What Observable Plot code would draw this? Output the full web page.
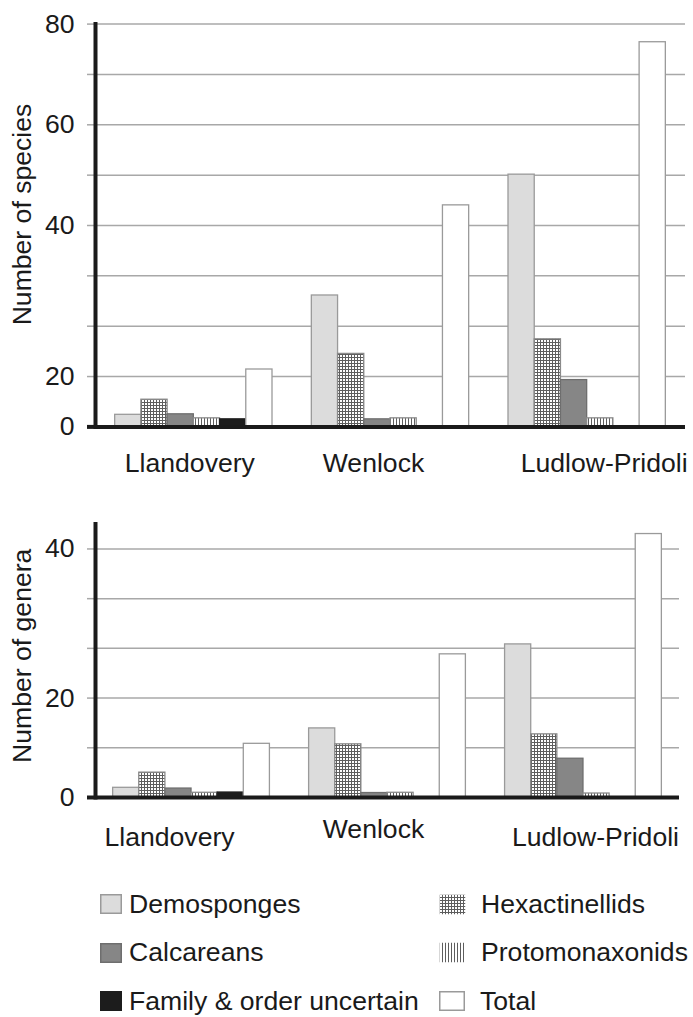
<!DOCTYPE html>
<html>
<head>
<meta charset="utf-8">
<script src="https://cdn.jsdelivr.net/npm/d3@7"></script>
<script src="https://cdn.jsdelivr.net/npm/@observablehq/plot@0.6"></script>
<style>
  html, body { margin: 0; padding: 0; background: #fff; }
  body { font-family: "Liberation Sans", Arial, Helvetica, sans-serif; color: #1a1a1a; width: 693px; }
  #charts svg { display: block; }
  #defs { position: absolute; width: 0; height: 0; }
  .legend { display: grid; grid-template-columns: 339px auto; grid-auto-rows: 48.5px; align-items: center;
            margin-left: 100px; padding-top: 20px; font-size: 26.6px; }
  .legend .item { display: flex; align-items: center; white-space: nowrap; }
  .legend .item:nth-child(odd) svg { margin-right: 7px; }
  .legend .item:nth-child(even) svg { margin-right: 15px; }
</style>
</head>
<body>
<svg id="defs" aria-hidden="true">
  <defs>
    <pattern id="hexPat" width="3" height="3" patternUnits="userSpaceOnUse">
      <rect width="3" height="3" fill="#ffffff"/>
      <path d="M0 0.5H3M0.5 0V3" stroke="#5e5e5e" stroke-width="1"/>
    </pattern>
    <pattern id="protoPat" width="3" height="3" patternUnits="userSpaceOnUse">
      <rect width="3" height="3" fill="#ffffff"/>
      <path d="M0.5 0V3" stroke="#5e5e5e" stroke-width="1"/>
    </pattern>
  </defs>
</svg>
<div id="charts"></div>
<div class="legend" id="legend"></div>
<script>
// ---------- data ----------
const periods = ["Llandovery", "Wenlock", "Ludlow-Pridoli"];
const seriesNames = ["Demosponges", "Hexactinellids", "Calcareans", "Protomonaxonids", "Family & order uncertain", "Total"];

// Number of species (per period, in the order of `periods`)
const speciesDemosponges  = [2.4, 26.1, 50.1];
const speciesHexactinellids = [5.4, 14.5, 17.4];
const speciesCalcareans   = [2.5, 1.5, 9.3];
const speciesProtomonaxonids = [1.7, 1.7, 1.7];
const speciesUncertain    = [1.5, 0, 0];
const speciesTotal        = [11.4, 44, 76.4];

// Number of genera
const generaDemosponges   = [1.95, 13.9, 30.8];
const generaHexactinellids = [5.0, 10.7, 12.7];
const generaCalcareans    = [1.8, 0.9, 7.8];
const generaProtomonaxonids = [0.95, 0.95, 0.8];
const generaUncertain     = [1.0, 0, 0];
const generaTotal         = [10.8, 28.8, 53];

// axis ticks as printed on the original
const speciesGrid = [10, 20, 30, 40, 50, 60, 70, 80];
const speciesTickValues = [0, 10, 40, 60, 80];
const speciesTickLabels = ["0", "20", "40", "60", "80"];
const generaGrid = [10, 20, 30, 40, 50];
const generaTickValues = [0, 20, 50];
const generaTickLabels = ["0", "20", "40"];

// ---------- styles ----------
const fills   = ["#dcdcdc", "url(#hexPat)", "#868686", "url(#protoPat)", "#1c1c1c", "#ffffff"];
const strokes = ["#9a9a9a", "#8a8a8a", "#6e6e6e", "#8a8a8a", "#1c1c1c", "#9a9a9a"];
const ink = "#1a1a1a";
const gridColor = "#a8a8a8";
const W = 693, ML = 95, FS = 26.6;

function chart(cfg) {
  const valuesBySeries = cfg.values;
  const rows = [];
  periods.forEach((p, i) => seriesNames.forEach((s, j) => rows.push({period: p, series: s, value: valuesBySeries[j][i]})));
  const n = seriesNames.length;
  const innerW = W - ML - cfg.marginRight;
  const step = innerW / (periods.length - 0.2 + 2 * cfg.paddingOuter);
  const w = step * 0.8 / n;
  const tickMap = new Map(cfg.tickValues.map((v, i) => [v, cfg.tickLabels[i]]));

  const bars = seriesNames.map((s, j) => Plot.barY(rows.filter(r => r.series === s && r.value > 0), {
    x: "period", y: "value", fill: fills[j], stroke: strokes[j], strokeWidth: 1.3,
    insetLeft: j * w, insetRight: (n - 1 - j) * w
  }));

  const labels = periods.map((p, i) => Plot.text([p], {
    x: d => d, text: d => d, frameAnchor: "bottom", dx: cfg.labelDx[i], dy: cfg.labelDy[i],
    lineAnchor: "middle", fontSize: FS, fill: ink
  }));

  return Plot.plot({
    width: W, height: cfg.height,
    marginLeft: ML, marginRight: cfg.marginRight, marginTop: cfg.marginTop, marginBottom: cfg.marginBottom,
    style: {fontFamily: "'Liberation Sans', Arial, sans-serif", fontSize: FS + "px", color: ink, background: "#fff"},
    x: {domain: periods, paddingInner: 0.2, paddingOuter: cfg.paddingOuter, round: false, axis: null},
    y: {domain: [0, cfg.yMax], axis: null, label: null},
    marks: [
      Plot.ruleY(cfg.grid, {stroke: gridColor, strokeWidth: 1.5}),
      Plot.axisY(cfg.grid, {tickSize: 8, tickFormat: () => "", stroke: gridColor, strokeWidth: 1.5, label: null}),
      ...bars,
      Plot.ruleY([0], {stroke: ink, strokeWidth: 4}),
      Plot.axisY([0], {tickSize: 8, tickFormat: () => "", stroke: ink, strokeWidth: 4, label: null}),
      Plot.frame({anchor: "left", stroke: ink, strokeWidth: 4}),
      Plot.axisY(cfg.tickValues, {tickSize: 0, tickPadding: 21, tickFormat: d => tickMap.get(d), fontSize: FS, fill: ink, label: null}),
      Plot.text([cfg.yLabel], {text: d => d, frameAnchor: "left", dx: -73, dy: cfg.titleDy, rotate: -90,
        textAnchor: "middle", lineAnchor: "middle", fontSize: FS, fill: ink}),
      ...labels
    ]
  });
}

const charts = document.getElementById("charts");
charts.append(chart({
  values: [speciesDemosponges, speciesHexactinellids, speciesCalcareans, speciesProtomonaxonids, speciesUncertain, speciesTotal],
  yMax: 80, grid: speciesGrid, tickValues: speciesTickValues, tickLabels: speciesTickLabels,
  yLabel: "Number of species",
  height: 490, marginTop: 23.6, marginBottom: 63.6, marginRight: 8, paddingOuter: 0.1,
  labelDx: [-4, -17, 17], labelDy: [36.6, 36.6, 36.6], titleDy: -11
}));
charts.append(chart({
  values: [generaDemosponges, generaHexactinellids, generaCalcareans, generaProtomonaxonids, generaUncertain, generaTotal],
  yMax: 55, grid: generaGrid, tickValues: generaTickValues, tickLabels: generaTickLabels,
  yLabel: "Number of genera",
  height: 370, marginTop: 33.6, marginBottom: 63, marginRight: 14, paddingOuter: 0.09,
  labelDx: [-22, -14, 12], labelDy: [40, 32, 40], titleDy: -5
}));

// ---------- legend ----------
const legend = document.getElementById("legend");
const swatchSize = [[22, 20], [27, 21], [22, 20], [27, 21], [22, 20], [26, 20]];
const swatchStroke = ["#9a9a9a", "none", "#6e6e6e", "none", "#1c1c1c", "#9a9a9a"];
seriesNames.forEach((s, j) => {
  const [sw, sh] = swatchSize[j];
  const item = document.createElement("div");
  item.className = "item";
  item.innerHTML = `<svg width="${sw}" height="${sh}"><rect x="0.75" y="0.75" width="${sw - 1.5}" height="${sh - 1.5}" fill="${fills[j]}" stroke="${swatchStroke[j]}" stroke-width="1.5"/></svg><span>${s.replace("&", "&amp;")}</span>`;
  legend.append(item);
});
</script>
</body>
</html>
